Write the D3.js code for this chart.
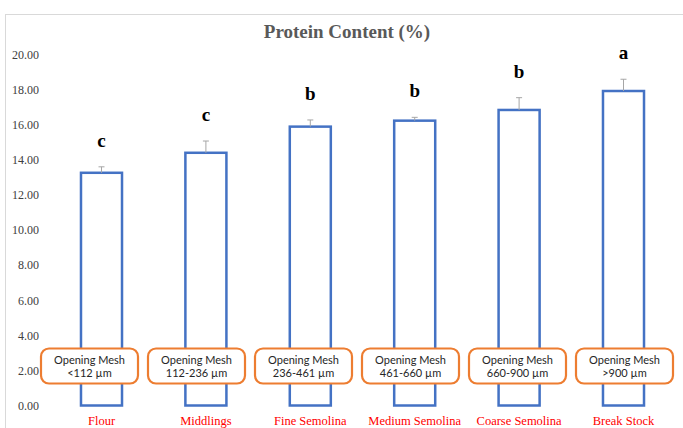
<!DOCTYPE html>
<html>
<head>
<meta charset="utf-8">
<script src="https://cdn.jsdelivr.net/npm/d3@7"></script>
<style>
  html, body { margin: 0; padding: 0; background: #fff; }
  svg { display: block; }
</style>
</head>
<body>
<svg id="chart" width="683" height="428"></svg>
<script>
// Protein content by milling fraction
const categories = ["Flour", "Middlings", "Fine Semolina", "Medium Semolina", "Coarse Semolina", "Break Stock"];
const protein = [13.26, 14.40, 15.89, 16.23, 16.84, 17.92];
const stdErr = [0.34, 0.67, 0.38, 0.19, 0.70, 0.67];
const groups = ["c", "c", "b", "b", "b", "a"];
const meshSizes = ["<112 µm", "112-236 µm", "236-461 µm", "461-660 µm", "660-900 µm", ">900 µm"];
const yTicks = [0, 2, 4, 6, 8, 10, 12, 14, 16, 18, 20];

const serif = "'Liberation Serif', 'Times New Roman', serif";
const svg = d3.select("#chart");

// outer chart frame
svg.append("rect")
  .attr("x", 5.5).attr("y", 14.5)
  .attr("width", 720).attr("height", 440)
  .attr("fill", "none").attr("stroke", "#d9d9d9").attr("stroke-width", 1);

const y = d3.scaleLinear().domain([0, 20]).range([405.5, 54.5]);
const x = d3.scaleBand()
  .domain(categories)
  .range([49.3, 675.7])
  .paddingInner(0.607)
  .paddingOuter(0.3035);

// title
svg.append("text")
  .attr("x", 347).attr("y", 38)
  .attr("text-anchor", "middle")
  .attr("font-family", serif)
  .attr("font-weight", "bold")
  .attr("font-size", 19)
  .attr("fill", "#595959")
  .text("Protein Content (%)");

// y axis labels only
const yAxis = d3.axisLeft(y).tickValues(yTicks).tickFormat(d3.format(".2f")).tickSize(0).tickPadding(0);
const yg = svg.append("g").attr("transform", "translate(39,0)").call(yAxis);
yg.select(".domain").remove();
yg.selectAll("text")
  .attr("font-family", serif)
  .attr("font-size", 12)
  .attr("fill", "#404040");

const data = categories.map((c, i) => ({ c, v: protein[i], e: stdErr[i], g: groups[i], mesh: meshSizes[i] }));

// bars
svg.append("g").selectAll("rect")
  .data(data).join("rect")
  .attr("x", d => x(d.c))
  .attr("y", d => y(d.v))
  .attr("width", x.bandwidth())
  .attr("height", d => y(0) - y(d.v))
  .attr("fill", "#fff")
  .attr("stroke", "#4472c4")
  .attr("stroke-width", 2.5);

// error bars
const eb = svg.append("g").attr("stroke", "#a6a6a6").attr("stroke-width", 1);
data.forEach(d => {
  const cx = x(d.c) + x.bandwidth() / 2;
  eb.append("line").attr("x1", cx).attr("x2", cx).attr("y1", y(d.v)).attr("y2", y(d.v + d.e));
  eb.append("line").attr("x1", cx - 3).attr("x2", cx + 3).attr("y1", y(d.v + d.e)).attr("y2", y(d.v + d.e));
});

// significance letters
svg.append("g").selectAll("text")
  .data(data).join("text")
  .attr("x", d => x(d.c) + x.bandwidth() / 2)
  .attr("y", d => y(d.v + d.e) - 20)
  .attr("text-anchor", "middle")
  .attr("font-family", serif)
  .attr("font-weight", "bold")
  .attr("font-size", 19)
  .attr("fill", "#000")
  .text(d => d.g);

// category labels
svg.append("g").selectAll("text")
  .data(data).join("text")
  .attr("x", d => x(d.c) + x.bandwidth() / 2)
  .attr("y", 425)
  .attr("text-anchor", "middle")
  .attr("font-family", serif)
  .attr("font-size", 12.5)
  .attr("fill", "#ff0000")
  .text(d => d.c);

// mesh annotation boxes
const boxX = d3.scaleBand().domain(categories).range([36, 678]).padding(0);
const boxW = 97, boxH = 35, boxTop = 348.5;
const boxes = svg.append("g").selectAll("g")
  .data(data).join("g")
  .attr("transform", d => `translate(${boxX(d.c) + boxX.bandwidth() / 2},${boxTop})`);
boxes.append("rect")
  .attr("x", -boxW / 2).attr("y", 0)
  .attr("width", boxW).attr("height", boxH)
  .attr("rx", 8).attr("ry", 8)
  .attr("fill", "#fff")
  .attr("stroke", "#ed7d31")
  .attr("stroke-width", 2.2);
boxes.append("text")
  .attr("y", 15)
  .attr("text-anchor", "middle")
  .attr("font-family", "Lato, 'Open Sans', sans-serif")
  .attr("font-size", 11)
  .attr("fill", "#262626")
  .text("Opening Mesh");
boxes.append("text")
  .attr("y", 28.5)
  .attr("text-anchor", "middle")
  .attr("font-family", "Lato, 'Open Sans', sans-serif")
  .attr("font-size", 11)
  .attr("fill", "#262626")
  .text(d => d.mesh);
</script>
</body>
</html>
